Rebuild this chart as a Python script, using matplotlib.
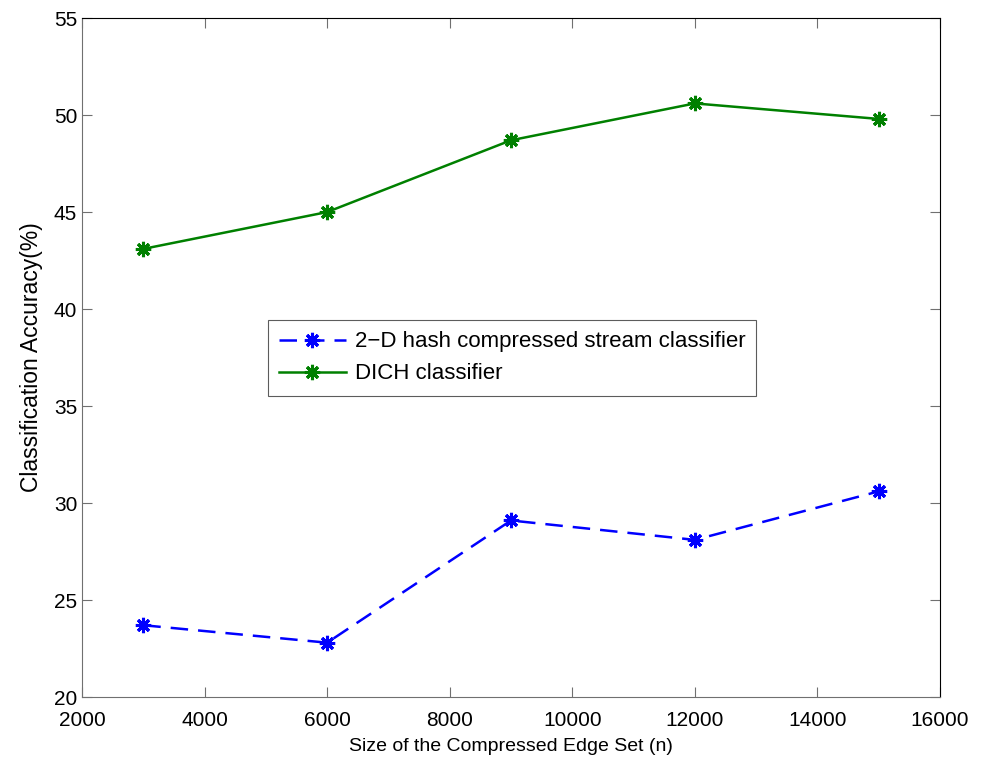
import matplotlib
matplotlib.use("Agg")
import matplotlib.pyplot as plt

plt.rcParams['font.family'] = ['Liberation Sans', 'DejaVu Sans']

# Data
edge_set_size = [3000, 6000, 9000, 12000, 15000]
hash_2d_acc = [23.7, 22.8, 29.1, 28.1, 30.6]
dich_acc = [43.1, 45.0, 48.7, 50.6, 49.8]

fig = plt.figure(figsize=(9.81, 7.62), dpi=100)
ax = fig.add_axes([0.0836, 0.0853, 0.8746, 0.891])

# MATLAB-like asterisk marker
star = (8, 2, 0)

ax.plot(edge_set_size, hash_2d_acc, '--', color='#0000ff', linewidth=1.8,
        dashes=(7, 4), marker=star, markersize=11, markeredgewidth=2.2,
        label='2\u2212D hash compressed stream classifier')
ax.plot(edge_set_size, dich_acc, '-', color='#008000', linewidth=1.8,
        marker=star, markersize=11, markeredgewidth=2.2,
        label='DICH classifier')

ax.set_xlim(2000, 16000)
ax.set_ylim(20, 55)
ax.set_xticks(range(2000, 16001, 2000))
ax.set_yticks(range(20, 56, 5))
ax.tick_params(direction='in', top=True, right=True, labelsize=15, length=7,
               color='#707070')
ax.tick_params(axis='x', pad=10)
for side in ['left', 'bottom']:
    ax.spines[side].set_color('#707070')

ax.set_xlabel('Size of the Compressed Edge Set (n)', fontsize=14, labelpad=6)
ax.set_ylabel('Classification Accuracy(%)', fontsize=16.5, labelpad=8)

leg = ax.legend(loc='upper left', bbox_to_anchor=(0.2167, 0.555), fontsize=16,
                frameon=True, fancybox=False, edgecolor='#333333',
                handlelength=3.0, handletextpad=0.4, borderpad=0.5,
                labelspacing=0.5, borderaxespad=0)
leg.get_frame().set_linewidth(0.8)

fig.savefig('out.png', dpi=100)
